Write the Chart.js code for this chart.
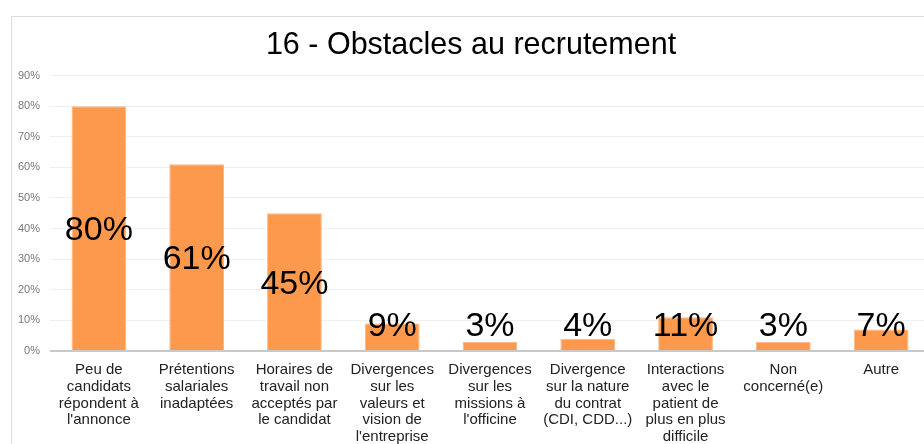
<!DOCTYPE html>
<html>
<head>
<meta charset="utf-8">
<script src="https://cdn.jsdelivr.net/npm/chart.js@4"></script>
<style>
  html, body { margin: 0; padding: 0; background: #fff; overflow: hidden; width: 924px; height: 444px; }
  #box { position: absolute; left: 11px; top: 16px; width: 930px; height: 440px; border: 1px solid #dcdcdc; box-sizing: border-box; }
  canvas { display: block; }
</style>
</head>
<body>
<div id="box"><canvas id="c" width="928" height="438"></canvas></div>
<script>
const titleText = "16 - Obstacles au recrutement";
const categories = [
  ["Peu de", "candidats", "répondent à", "l'annonce"],
  ["Prétentions", "salariales", "inadaptées"],
  ["Horaires de", "travail non", "acceptés par", "le candidat"],
  ["Divergences", "sur les", "valeurs et", "vision de", "l'entreprise"],
  ["Divergences", "sur les", "missions à", "l'officine"],
  ["Divergence", "sur la nature", "du contrat", "(CDI, CDD...)"],
  ["Interactions", "avec le", "patient de", "plus en plus", "difficile"],
  ["Non", "concerné(e)"],
  ["Autre"]
];
const values = [80, 61, 45, 9, 3, 4, 11, 3, 7];
const yMax = 90;
const yStep = 10;

const FONT = "'Liberation Sans', Arial, Helvetica, sans-serif";

const valueLabels = {
  id: 'valueLabels',
  afterDatasetsDraw(chart) {
    const ctx = chart.ctx;
    const meta = chart.getDatasetMeta(0);
    const size = 34;
    ctx.save();
    ctx.font = size + "px " + FONT;
    ctx.fillStyle = "#000";
    ctx.textAlign = "center";
    ctx.textBaseline = "alphabetic";
    meta.data.forEach((bar, i) => {
      const center = (bar.y + bar.base) / 2;
      const baseline = Math.min(center + 0.36 * size, bar.base - 14);
      ctx.fillText(values[i] + "%", bar.x, baseline);
    });
    ctx.restore();
  }
};

new Chart(document.getElementById('c'), {
  type: 'bar',
  data: {
    labels: categories,
    datasets: [{
      data: values,
      backgroundColor: '#fd994d',
      borderColor: '#feb57f',
      borderWidth: 1,
      barPercentage: 0.56,
      categoryPercentage: 1
    }]
  },
  options: {
    responsive: false,
    animation: false,
    layout: { padding: { left: 0, right: 10, top: 0, bottom: 0 } },
    plugins: {
      legend: { display: false },
      tooltip: { enabled: false },
      title: {
        display: true,
        text: titleText,
        color: '#000',
        font: { family: FONT, size: 30.5, weight: 'normal' },
        padding: { top: 10, bottom: 12 }
      }
    },
    scales: {
      x: {
        grid: { display: false },
        border: { display: false },
        afterFit: (s) => { s.height = 104; },
        ticks: {
          color: '#222',
          font: { family: FONT, size: 15, lineHeight: 1.11 },
          maxRotation: 0,
          autoSkip: false,
          padding: 3
        }
      },
      y: {
        min: 0,
        max: yMax,
        border: { display: false },
        afterFit: (s) => { s.width = 38; },
        grid: {
          drawTicks: false,
          color: (c) => c.tick && c.tick.value === 0 ? '#c8c8c8' : '#efefef',
          lineWidth: (c) => c.tick && c.tick.value === 0 ? 2 : 1
        },
        ticks: {
          stepSize: yStep,
          color: '#777',
          padding: 10,
          font: { family: FONT, size: 11 },
          callback: (v) => v + '%'
        }
      }
    }
  },
  plugins: [valueLabels]
});
</script>
</body>
</html>
